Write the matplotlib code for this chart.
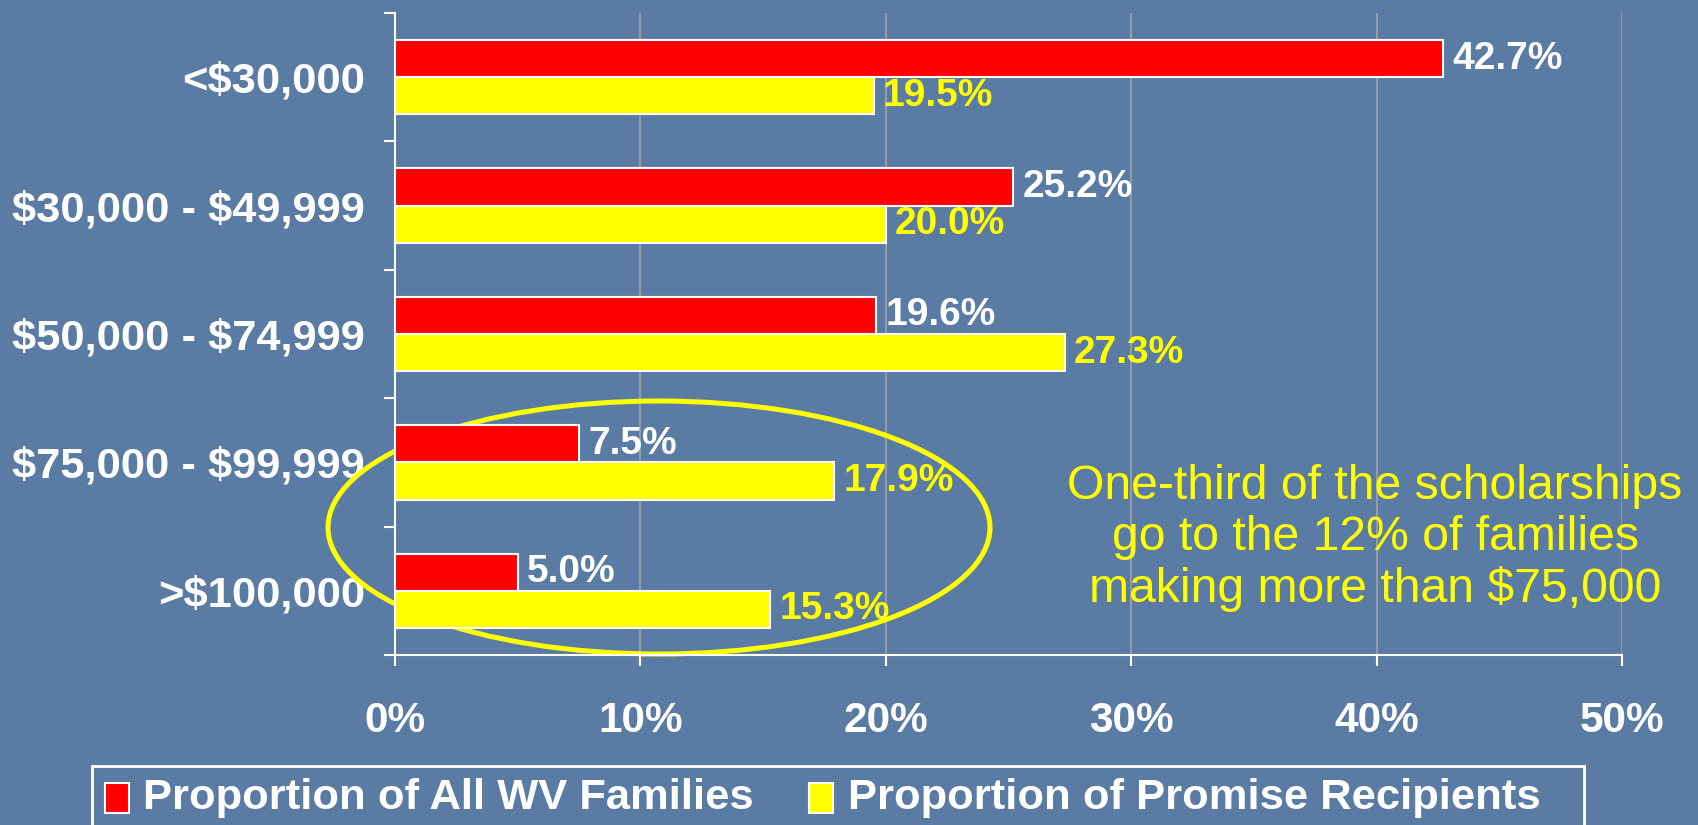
import matplotlib
matplotlib.use("Agg")
import matplotlib.pyplot as plt
from matplotlib.patches import Ellipse, Rectangle
from matplotlib.ticker import FixedLocator
import numpy as np

plt.rcParams["text.parse_math"] = False

categories = ["<$30,000", "$30,000 - $49,999", "$50,000 - $74,999",
              "$75,000 - $99,999", ">$100,000"]
wv_families = [42.7, 25.2, 19.6, 7.5, 5.0]
promise_recipients = [19.5, 20.0, 27.3, 17.9, 15.3]
series_labels = ["Proportion of All WV Families", "Proportion of Promise Recipients"]
x_ticks = [0, 10, 20, 30, 40, 50]
x_tick_labels = ["0%", "10%", "20%", "30%", "40%", "50%"]
note = "One-third of the scholarships\ngo to the 12% of families\nmaking more than $75,000"

BG = "#5a7ca4"
RED = "#ff0000"
YEL = "#ffff00"
GRID = "#a3a3a3"
FONT = "Liberation Sans"

fig = plt.figure(figsize=(16.98, 8.25), dpi=100, facecolor=BG)
ax = fig.add_axes([395/1698, 1-655/825, (1622-395)/1698, (655-13)/825])
ax.set_facecolor("none")

y = np.arange(len(categories))
h = 0.29
b1 = ax.barh(y - h/2, wv_families, height=h, color=RED, edgecolor="white", linewidth=1.5, zorder=3)
b2 = ax.barh(y + h/2, promise_recipients, height=h, color=YEL, edgecolor="white", linewidth=1.5, zorder=3)

for rect, v in zip(b1, wv_families):
    ax.annotate(f"{v:.1f}%", (rect.get_width(), rect.get_y() + rect.get_height()/2),
                xytext=(6.5, 0), textcoords="offset points", va="center", ha="left",
                color="white", fontsize=28, fontweight="bold", family=FONT, zorder=5)
for rect, v in zip(b2, promise_recipients):
    ax.annotate(f"{v:.1f}%", (rect.get_width(), rect.get_y() + rect.get_height()/2),
                xytext=(6.5, 0), textcoords="offset points", va="center", ha="left",
                color=YEL, fontsize=28, fontweight="bold", family=FONT, zorder=5)

ax.set_xlim(0, 50)
ax.set_ylim(len(categories) - 0.5, -0.5)

ax.set_xticks(x_ticks)
ax.set_xticklabels(x_tick_labels, fontsize=30.5, fontweight="bold", color="white", family=FONT)
ax.set_yticks(y)
ax.set_yticklabels(categories, fontsize=31.3, fontweight="bold", color="white", family=FONT)
ax.yaxis.set_minor_locator(FixedLocator(np.arange(-0.5, len(categories), 1.0)))
ax.tick_params(axis="y", which="major", length=0, pad=21.5)
ax.tick_params(axis="y", which="minor", length=8, width=1.5, color="white", direction="out")
ax.tick_params(axis="x", which="major", length=8, width=1.5, color="white", direction="out", pad=25)

ax.xaxis.grid(True, color=GRID, linewidth=1.2, zorder=0)
ax.set_axisbelow(True)
for s in ["top", "right"]:
    ax.spines[s].set_visible(False)
for s in ["left", "bottom"]:
    ax.spines[s].set_color("white")
    ax.spines[s].set_linewidth(1.5)

# highlight ellipse
ell = Ellipse((659/1698, 1-527.5/825), 662/1698, 253/825, transform=fig.transFigure,
              fill=False, edgecolor=YEL, linewidth=3.6, zorder=2.5, clip_on=False)
ax.add_artist(ell)

fig.text(1375/1698, 1-538/825, note, ha="center", va="center", color=YEL,
         fontsize=34.7, family=FONT, linespacing=1.18)

# legend box
fig.patches.append(Rectangle((92/1698, -0.05), (1584-92)/1698, 0.05 + 1-766/825,
                             transform=fig.transFigure, fill=False, edgecolor="white", linewidth=2))
leg_items = [(105, 143, RED, series_labels[0]), (809, 848, YEL, series_labels[1])]
for mx, tx, col, lab in leg_items:
    fig.patches.append(Rectangle((mx/1698, 1-813/825), 24/1698, 30/825, transform=fig.transFigure,
                                 facecolor=col, edgecolor="white", linewidth=1.5))
    fig.text(tx/1698, 1-798/825, lab, ha="left", va="center", color="white",
             fontsize=31.3, fontweight="bold", family=FONT)

fig.savefig("out.png", dpi=100, facecolor=BG)
